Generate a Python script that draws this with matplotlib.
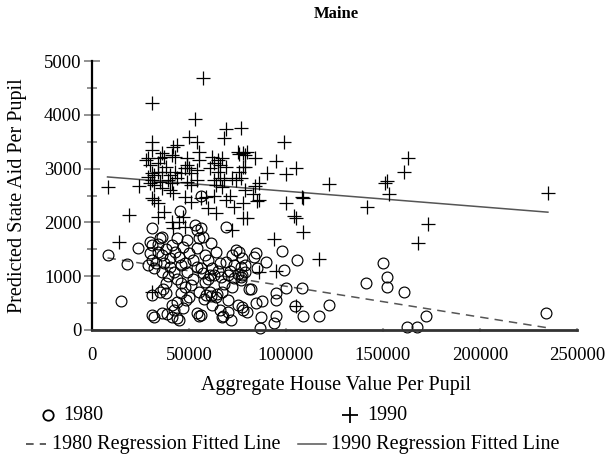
import numpy as np
import matplotlib
matplotlib.use('Agg')
import matplotlib.pyplot as plt
from matplotlib.lines import Line2D

plt.rcParams['font.family'] = ['Liberation Serif', 'DejaVu Serif']

# 1980: aggregate house value per pupil / predicted state aid per pupil
x_1980 = [8000, 18000, 15000, 23500, 31000, 45500, 56000, 53000, 56000, 69000,
          30000, 31000, 35000, 36000, 41000, 44000, 49000, 54000, 55000, 57000, 61500,
          30000, 34000, 36000, 31000, 40000, 45000, 50000, 54000, 60000, 64000, 66000,
          32000, 36000, 40000, 42500, 46000, 49000, 54000, 57000, 61000,
          69000, 72000, 76000, 77000, 63000, 66500, 70000, 73000, 77000,
          46000, 48000, 51000, 38000, 35000, 31000, 38000, 55000, 59000, 61000, 64000, 67000, 70000,
          41000, 44000, 47000, 42500, 31000, 36000, 45000, 41000, 54000, 55000, 56000, 62000, 66000,
          67000, 71500, 70000, 78000, 74000, 77500, 79000,
          84500, 83500, 98000, 105500, 89500, 79000, 85000, 99000, 77500, 77000, 82000,
          95000, 100000, 108000, 87500, 84500, 77500, 80000, 122000, 104500, 87000, 95000, 94000,
          109000, 117000, 86500, 141000, 150000, 152000, 152000, 161000, 172000, 162500, 167500, 234000,
          36500, 48500, 57500, 61500, 64500, 75500, 81000, 95000, 32000, 38500, 44000, 67500,
          33000, 38000, 43000, 47000, 52000, 58000, 62000, 65000, 71000, 73000, 75000,
          39000, 44000, 52000, 58000, 68000, 72000, 34000, 37000, 48000, 56000, 60000, 29000, 50000, 46000]
y_1980 = [1400, 1230, 540, 1520, 1890, 2210, 2500, 1950, 1900, 1910,
          1640, 1580, 1710, 1730, 1580, 1710, 1670, 1860, 1710, 1730, 1620,
          1430, 1450, 1390, 1300, 1340, 1360, 1430, 1520, 1300, 1450, 1250,
          1150, 1080, 1170, 1080, 1210, 1080, 1170, 1060, 1020,
          1260, 1390, 1450, 1170, 1020, 990, 1020, 970, 990,
          870, 800, 840, 870, 710, 650, 690, 710, 650, 710, 610, 710, 560,
          470, 520, 410, 370, 280, 320, 190, 240, 320, 260, 280, 470, 370,
          240, 190, 340, 370, 1490, 1340, 1080,
          1430, 1360, 1470, 1300, 1260, 1210, 1150, 1120, 1020, 930, 760,
          690, 780, 780, 540, 500, 430, 340, 470, 450, 240, 260, 130,
          260, 260, 30, 870, 1250, 990, 800, 710, 260, 60, 60, 320,
          760, 560, 580, 630, 670, 460, 760, 560, 240, 300, 220, 260,
          1250, 1500, 1450, 1550, 1300, 1400, 1150, 1100, 1100, 1200, 1050,
          1000, 950, 950, 900, 850, 800, 1600, 1250, 1250, 1150, 950, 1200, 620, 680]

x_1990 = [57000, 31000, 53000, 69000, 77000, 68000, 99000, 95000, 105000, 90000, 100000, 122000,
          8000, 24000, 108000, 163000, 161000, 152000, 151000, 153000, 142000, 235000, 173000, 168000,
          117000, 109000, 109000, 85000, 78000, 100000, 80000, 105000, 94000, 95000, 86000, 105000,
          78000, 80000, 84000, 78000, 77000, 86000, 84000, 83000,
          31000, 50000, 54000, 44000, 42000, 31000, 55000, 36000, 37000, 35000, 29000, 28000,
          41000, 43000, 49000, 55000, 62000, 65000, 67000, 75000, 76000, 79000,
          30000, 34000, 38000, 49000, 50000, 63000, 66000, 61000, 65000, 69000,
          31000, 32000, 34000, 36000, 40000, 43000, 46000, 48000, 51000, 54000, 79000, 76000,
          29000, 31000, 30000, 32000, 35000, 39000, 41000, 44000, 49000, 51000, 54000,
          63000, 66000, 68000, 72000, 74000, 64000, 67000,
          36000, 40000, 42000, 31000, 48000, 59000, 63000, 71000, 79000,
          32000, 34000, 19000, 34000, 37000, 41000, 45000, 48000, 14000, 31000,
          51000, 56000, 60000, 64000, 69000, 73000, 78000, 72000, 47000, 42000, 104000, 86000]
y_1990 = [4690, 4220, 3920, 3740, 3750, 3570, 3500, 3140, 3010, 2920, 2900, 2710,
          2660, 2680, 2470, 3200, 2940, 2770, 2730, 2530, 2290, 2550, 1970, 1620,
          1320, 2450, 1820, 2400, 2360, 2360, 2080, 2080, 1690, 1100, 1080, 450,
          3290, 3310, 3200, 3030, 2830, 2740, 2680, 2530,
          3500, 3590, 3500, 3440, 3400, 3350, 3310, 3290, 3220, 3200, 3200, 3160,
          3250, 3220, 3200, 3160, 3220, 3160, 3200, 3310, 3270, 3250,
          3070, 3100, 3030, 3070, 3010, 3100, 3070, 3010, 2940, 3030,
          2920, 2880, 2940, 2940, 2880, 2940, 2920, 3010, 2920, 2970, 3030, 2940,
          2840, 2790, 2730, 2700, 2750, 2790, 2730, 2830, 2750, 2700, 2790,
          2790, 2830, 2790, 2830, 2790, 2700, 2660,
          2640, 2600, 2550, 2450, 2470, 2470, 2500, 2500, 2600,
          2420, 2360, 2140, 2100, 2190, 2000, 2000, 1910, 1640, 700,
          2380, 2450, 2270, 2170, 2420, 2290, 2080, 1860, 2100, 1900, 2120, 2420]

# fitted regression lines (endpoints over the data range)
fit_x = [8000, 235000]
fit_1980 = [1340, 40]
fit_1990 = [2845, 2190]

xticks = [0, 50000, 100000, 150000, 200000, 250000]
yticks = [0, 1000, 2000, 3000, 4000, 5000]

FS = 14.5
W, H = 608, 461
fig = plt.figure(figsize=(W / 100, H / 100), dpi=100)
ax = fig.add_axes([92 / W, (H - 330) / H, 485 / W, 269 / H])

ax.plot(fit_x, fit_1990, color='#555555', lw=1.1, zorder=1)
ax.plot(fit_x, fit_1980, color='#555555', lw=1.1, dashes=(5.5, 4), zorder=1)
ax.plot(x_1980, y_1980, 'o', ms=7.8, mfc='none', mec='black', mew=0.85, clip_on=False, zorder=2)
ax.plot(x_1990, y_1990, '+', ms=9.5, mec='black', mew=0.9, clip_on=False, zorder=2)

ax.set_xlim(0, 250000)
ax.set_ylim(0, 5000)
ax.set_xticks(xticks)
ax.set_yticks(yticks)
ax.set_yticks(np.arange(500, 5000, 1000), minor=True)
ax.set_xticklabels([str(v) for v in xticks])
ax.set_yticklabels([str(v) for v in yticks])
for s in ['top', 'right']:
    ax.spines[s].set_visible(False)
ax.spines['left'].set_linewidth(1.6)
ax.spines['bottom'].set_linewidth(2)
ax.spines['bottom'].set_color('#333333')
ax.tick_params(axis='y', which='major', direction='inout', length=11, width=1.3,
               color='#888888', labelsize=13.5, pad=2)
ax.tick_params(axis='y', which='minor', direction='inout', length=7, width=1.3, color='#888888')
ax.tick_params(axis='x', direction='inout', length=3, width=1.5, color='#aaaaaa',
               labelsize=13.5, pad=11)

fig.text(336 / W, 1 - 14 / H, 'Maine', ha='center', va='center', fontsize=12, fontweight='bold')
fig.text(18 / W, 1 - 196 / H, 'Predicted State Aid Per Pupil', rotation=90,
         ha='center', va='center', fontsize=FS)
fig.text(336 / W, 1 - 385 / H, 'Aggregate House Value Per Pupil', ha='center', va='center',
         fontsize=FS)

# legend drawn by hand, Stata style
r1, r2 = 1 - 415 / H, 1 - 444 / H
fig.add_artist(Line2D([48 / W], [r1], marker='o', ms=7.5, mfc='none', mec='black', mew=1.3,
                      transform=fig.transFigure))
fig.text(63 / W, r1, '1980', va='center', fontsize=FS)
fig.add_artist(Line2D([350 / W], [r1], marker='+', ms=11, mec='black', mew=1.3,
                      transform=fig.transFigure))
fig.text(367 / W, r1, '1990', va='center', fontsize=FS)
fig.add_artist(Line2D([26 / W, 46 / W], [r2, r2], color='#333333', lw=1.1, dashes=(5, 4),
                      transform=fig.transFigure))
fig.text(52 / W, r2, '1980 Regression Fitted Line', va='center', fontsize=FS)
fig.add_artist(Line2D([298 / W, 326 / W], [r2, r2], color='#555555', lw=1.1,
                      transform=fig.transFigure))
fig.text(331 / W, r2, '1990 Regression Fitted Line', va='center', fontsize=FS)

fig.savefig('out.png', dpi=100)
